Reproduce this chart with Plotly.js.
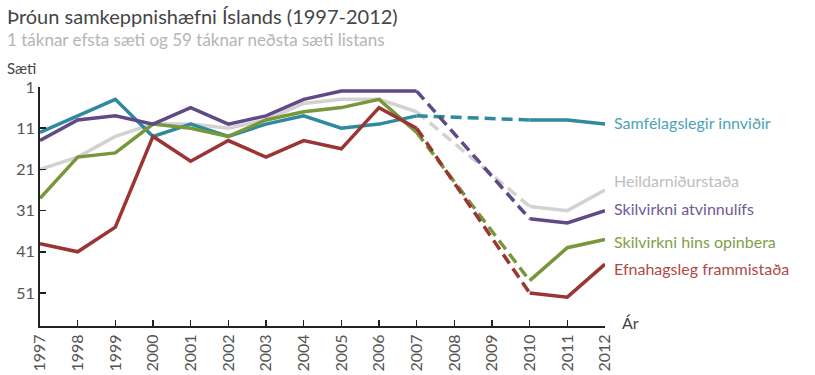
<!DOCTYPE html>
<html><head><meta charset="utf-8">
<script src="https://cdn.plot.ly/plotly-3.0.1.min.js"></script>
<style>body{margin:0;background:#fff}#c{width:815px;height:375px}</style>
</head><body><div id="c"></div>
<script>
const years = [1997,1998,1999,2000,2001,2002,2003,2004,2005,2006,2007,2008,2009,2010,2011,2012];
const samfelagslegir = [12,8,4,13,10,13,10,8,11,10,8,null,null,9,9,10];
const heildar       = [21,18,13,10,10,11,9,5,4,4,7,null,null,30,31,26];
const atvinnulifs   = [14,9,8,10,6,10,8,4,2,2,2,null,null,33,34,31];
const opinbera      = [28,18,17,10,11,13,9,7,6,4,12,null,null,48,40,38];
const efnahags      = [39,41,35,13,19,14,18,14,16,6,11,null,null,51,52,44];

const series = [
  {name:'Samfélagslegir innviðir', y:samfelagslegir, color:'#2E8A9E', label:'#4BA3B8', yshift:2},
  {name:'Heildarniðurstaða', y:heildar, color:'#D2D2D2', label:'#BDBDBD', yshift:10},
  {name:'Skilvirkni atvinnulífs', y:atvinnulifs, color:'#5F4A87', label:'#6E5A94', yshift:2},
  {name:'Skilvirkni hins opinbera', y:opinbera, color:'#77973A', label:'#7FA048', yshift:-2},
  {name:'Efnahagsleg frammistaða', y:efnahags, color:'#9B3433', label:'#AE4A48', yshift:-4}
];

const traces = [];
const annotations = [];
const i07 = years.indexOf(2007), i10 = years.indexOf(2010);
series.forEach(s => {
  traces.push({x:years.slice(0,i07+1), y:s.y.slice(0,i07+1), mode:'lines', line:{color:s.color,width:3.5}, hoverinfo:'skip', showlegend:false});
  traces.push({x:[years[i07],years[i10]], y:[s.y[i07],s.y[i10]], mode:'lines', line:{color:s.color,width:3.5,dash:'11px,6px'}, hoverinfo:'skip', showlegend:false});
  traces.push({x:years.slice(i10), y:s.y.slice(i10), mode:'lines', line:{color:s.color,width:3.5}, hoverinfo:'skip', showlegend:false});
  annotations.push({x:years[years.length-1], y:s.y[s.y.length-1], xref:'x', yref:'y', text:s.name, showarrow:false, xanchor:'left', yanchor:'middle', xshift:7, yshift:s.yshift, font:{family:'Lato, sans-serif', size:16, color:s.label}});
});
// draw grey behind
const order = [3,4,5,0,1,2,9,10,11,12,13,14,6,7,8];
const tr = order.map(i=>traces[i]);

const px = -35/565;
annotations.push({xref:'paper', yref:'paper', x:px, y:1+(87-16)/239, text:'Þróun samkeppnishæfni Íslands (1997-2012)', showarrow:false, xanchor:'left', yanchor:'middle', font:{family:'Lato, sans-serif', size:20, color:'#454545'}});
annotations.push({xref:'paper', yref:'paper', x:px, y:1+(87-40)/239, text:'1 táknar efsta sæti og 59 táknar neðsta sæti listans', showarrow:false, xanchor:'left', yanchor:'middle', font:{family:'Lato, sans-serif', size:17, color:'#b5b5b5'}});
annotations.push({xref:'paper', yref:'paper', x:px, y:1+(87-68)/239, text:'Sæti', showarrow:false, xanchor:'left', yanchor:'middle', font:{family:'Lato, sans-serif', size:15, color:'#444'}});
annotations.push({xref:'paper', yref:'paper', x:1, y:-(322-326)/239, text:'Ár', showarrow:false, xanchor:'left', yanchor:'middle', xshift:15, font:{family:'Lato, sans-serif', size:16, color:'#444'}});

const layout = {
  width:815, height:375,
  margin:{l:40, r:210, t:87, b:49},
  paper_bgcolor:'#fff', plot_bgcolor:'#fff',
  showlegend:false,
  xaxis:{range:[1997,2012], tickmode:'array', tickvals:years, ticktext:years.map(String), tickangle:-90,
    showgrid:false, zeroline:false, showline:true, linecolor:'#222', linewidth:2,
    ticks:'inside', ticklen:6, tickcolor:'#222', tickwidth:1.5,
    tickfont:{family:'Lato, sans-serif', size:16, color:'#555'}},
  yaxis:{range:[59,1], tickmode:'array', tickvals:[1,11,21,31,41,51], showgrid:false, zeroline:false,
    showline:true, linecolor:'#222', linewidth:2, ticks:'inside', ticklen:6, tickcolor:'#222', tickwidth:1.5,
    tickfont:{family:'Lato, sans-serif', size:16, color:'#555'}},
  annotations:annotations
};
Plotly.newPlot('c', tr, layout, {staticPlot:true, displayModeBar:false});
</script></body></html>
